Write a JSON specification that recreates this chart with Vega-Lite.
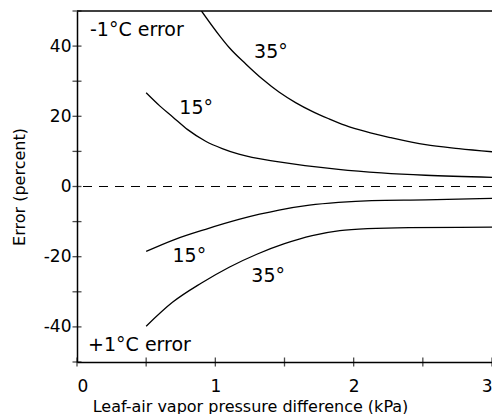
{
  "$schema": "https://vega.github.io/schema/vega-lite/v6.json",
  "autosize": {"type": "none"},
  "padding": {"left": 77, "top": 11, "right": 0, "bottom": 52},
  "width": 415,
  "height": 351,
  "background": "white",
  "data": {"values": [{}]},
  "config": {
    "view": {"stroke": null},
    "font": "DejaVu Sans",
    "axis": {
      "domainColor": "black",
      "domainWidth": 1.5,
      "ticks": false,
      "grid": false,
      "labelColor": "black",
      "titleColor": "black",
      "labelFont": "DejaVu Sans",
      "titleFont": "DejaVu Sans",
      "labelFontSize": 17,
      "titleFontSize": 16,
      "titleFontWeight": "normal",
      "labelOverlap": false
    }
  },
  "datasets": {
    "curves": [
      {"series": "u35", "x": 0.90, "y": 50},
      {"series": "u35", "x": 1.03, "y": 43},
      {"series": "u35", "x": 1.10, "y": 39.6},
      {"series": "u35", "x": 1.22, "y": 34.9},
      {"series": "u35", "x": 1.34, "y": 30.6},
      {"series": "u35", "x": 1.46, "y": 26.9},
      {"series": "u35", "x": 1.58, "y": 23.9},
      {"series": "u35", "x": 1.70, "y": 21.4},
      {"series": "u35", "x": 1.82, "y": 19.3},
      {"series": "u35", "x": 1.94, "y": 17.4},
      {"series": "u35", "x": 2.09, "y": 15.6},
      {"series": "u35", "x": 2.27, "y": 13.9},
      {"series": "u35", "x": 2.52, "y": 11.9},
      {"series": "u35", "x": 2.76, "y": 10.8},
      {"series": "u35", "x": 3.0, "y": 9.9},
      {"series": "u15", "x": 0.5, "y": 26.7},
      {"series": "u15", "x": 0.6, "y": 22.9},
      {"series": "u15", "x": 0.69, "y": 19.9},
      {"series": "u15", "x": 0.8, "y": 16.2},
      {"series": "u15", "x": 0.93, "y": 12.9},
      {"series": "u15", "x": 1.05, "y": 10.8},
      {"series": "u15", "x": 1.17, "y": 9.2},
      {"series": "u15", "x": 1.46, "y": 7.0},
      {"series": "u15", "x": 1.89, "y": 4.9},
      {"series": "u15", "x": 2.2, "y": 3.9},
      {"series": "u15", "x": 2.52, "y": 3.2},
      {"series": "u15", "x": 3.0, "y": 2.6},
      {"series": "l15", "x": 0.5, "y": -18.5},
      {"series": "l15", "x": 0.7, "y": -15.2},
      {"series": "l15", "x": 0.93, "y": -12.2},
      {"series": "l15", "x": 1.17, "y": -9.4},
      {"series": "l15", "x": 1.32, "y": -7.9},
      {"series": "l15", "x": 1.46, "y": -6.7},
      {"series": "l15", "x": 1.68, "y": -5.3},
      {"series": "l15", "x": 1.89, "y": -4.5},
      {"series": "l15", "x": 2.13, "y": -4.0},
      {"series": "l15", "x": 2.52, "y": -3.8},
      {"series": "l15", "x": 3.0, "y": -3.4},
      {"series": "l35", "x": 0.5, "y": -39.8},
      {"series": "l35", "x": 0.69, "y": -33.0},
      {"series": "l35", "x": 0.9, "y": -27.5},
      {"series": "l35", "x": 1.1, "y": -23.0},
      {"series": "l35", "x": 1.3, "y": -19.3},
      {"series": "l35", "x": 1.5, "y": -16.3},
      {"series": "l35", "x": 1.7, "y": -14.0},
      {"series": "l35", "x": 1.9, "y": -12.6},
      {"series": "l35", "x": 2.1, "y": -12.0},
      {"series": "l35", "x": 2.4, "y": -11.7},
      {"series": "l35", "x": 3.0, "y": -11.6}
    ],
    "labels": [
      {"x": 0.094, "y": 44.6, "text": "-1°C error"},
      {"x": 0.08, "y": -45.2, "text": "+1°C error"},
      {"x": 1.28, "y": 38.4, "text": "35°"},
      {"x": 0.74, "y": 22.4, "text": "15°"},
      {"x": 0.69, "y": -19.9, "text": "15°"},
      {"x": 1.26, "y": -25.6, "text": "35°"}
    ],
    "yticks": [
      {"v": -50}, {"v": -40}, {"v": -30}, {"v": -20}, {"v": -10}, {"v": 0},
      {"v": 10}, {"v": 20}, {"v": 30}, {"v": 40}, {"v": 50}
    ],
    "xticks": [
      {"v": 0}, {"v": 0.5}, {"v": 1}, {"v": 1.5}, {"v": 2}, {"v": 2.5}, {"v": 3}
    ]
  },
  "layer": [
    {
      "data": {"name": "curves"},
      "mark": {"type": "line", "color": "black", "strokeWidth": 1.3, "interpolate": "monotone", "clip": true},
      "encoding": {
        "x": {
          "field": "x",
          "type": "quantitative",
          "scale": {"domain": [0, 3], "nice": false},
          "axis": {
            "values": [0, 1, 2, 3],
            "labelExpr": "'' + datum.value",
            "title": "Leaf-air vapor pressure difference (kPa)",
            "labelPadding": 16,
            "titlePadding": 4,
            "titleX": 173,
            "titleAnchor": "start",
            "titleAlign": "center"
          }
        },
        "y": {
          "field": "y",
          "type": "quantitative",
          "scale": {"domain": [-50, 50], "nice": false},
          "axis": {
            "values": [-40, -20, 0, 20, 40],
            "labelExpr": "'' + datum.value",
            "title": "Error (percent)",
            "labelPadding": 6,
            "titlePadding": 16
          }
        },
        "detail": {"field": "series"}
      }
    },
    {
      "mark": {"type": "rule", "color": "black", "strokeWidth": 1.5},
      "encoding": {"y": {"datum": 50, "type": "quantitative"}}
    },
    {
      "mark": {"type": "rule", "color": "black", "strokeWidth": 1.2, "strokeDash": [9, 7]},
      "encoding": {"y": {"datum": 0, "type": "quantitative"}}
    },
    {
      "data": {"name": "yticks"},
      "mark": {"type": "tick", "orient": "horizontal", "color": "black", "size": 9, "thickness": 1.3},
      "encoding": {
        "x": {"datum": 0, "type": "quantitative"},
        "y": {"field": "v", "type": "quantitative"}
      }
    },
    {
      "data": {"name": "xticks"},
      "mark": {"type": "tick", "orient": "vertical", "color": "black", "size": 9, "thickness": 1.3},
      "encoding": {
        "x": {"field": "v", "type": "quantitative"},
        "y": {"datum": -50, "type": "quantitative"}
      }
    },
    {
      "data": {"name": "labels"},
      "mark": {"type": "text", "align": "left", "baseline": "middle", "fontSize": 19, "font": "DejaVu Sans", "color": "black"},
      "encoding": {
        "x": {"field": "x", "type": "quantitative"},
        "y": {"field": "y", "type": "quantitative"},
        "text": {"field": "text"}
      }
    }
  ]
}
